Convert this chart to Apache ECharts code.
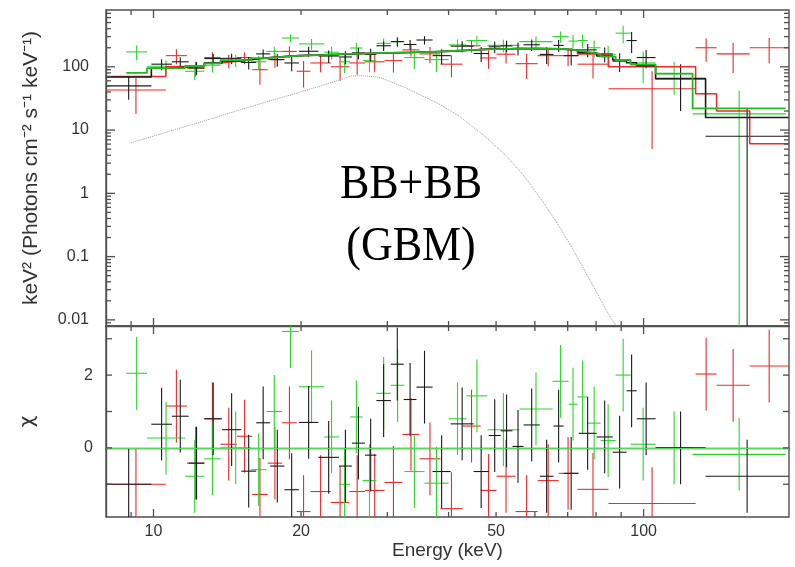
<!DOCTYPE html>
<html>
<head>
<meta charset="utf-8">
<script src="https://cdn.jsdelivr.net/npm/echarts@6/dist/echarts.min.js"></script>
<style>
  html, body { margin: 0; padding: 0; background: #fff; }
  #chart { width: 795px; height: 567px; }
</style>
</head>
<body>
<div id="chart"></div>
<script>
// detector 1 (black): bin edges in keV, unfolded flux, 1-sigma error, model and chi
const blackEdges = [8, 9.9, 10.9, 11.8, 12.7, 13.8, 15.1, 16.2, 17.3, 18.5, 19.8, 21.7, 23.9, 25.4, 27, 28.5, 30.5, 32.4, 34.4, 37.1, 40.4, 45, 48.3, 51.1, 54, 56.9, 61.4, 65.5, 68.7, 73.7, 80.2, 86.5, 92.3, 96.8, 105.8, 133.8, 197.7];
const blackFlux = [50, 110, 120, 96, 135, 136, 117, 160, 130, 115, 176, 148, 143, 166, 157, 215, 250, 225, 265, 150, 212, 162, 207, 214, 196, 223, 157, 218, 150, 185, 160, 123, 260, 140, 65, 8];
const blackErr = [20, 22, 22, 22, 25, 25, 26, 28, 30, 30, 32, 33, 33, 34, 35, 37, 38, 40, 40, 40, 42, 43, 44, 45, 45, 46, 46, 46, 45, 44, 42, 40, 95, 45, 45, 14];
const blackModel = [69, 95, 100, 105, 115, 124, 133, 140, 145, 150, 153, 157, 160, 162, 164, 166, 168, 170, 173, 177, 184, 190, 192, 193, 194, 194, 193, 190, 182, 167, 148, 128, 116, 104, 65, 15.8];
const blackChi = [-1.0, 0.65, 0.87, -0.42, 0.8, 0.5, -0.64, 0.69, -0.5, -1.15, 0.7, -0.26, -0.5, 0.13, -0.2, 1.3, 2.3, 1.33, 1.67, -0.65, 0.66, -0.65, 0.34, 0.47, 0.04, 0.63, -0.78, 0.6, -0.7, 0.4, 0.3, -0.12, 1.57, 0.8, 0.0, -0.78];

// detector 2 (red)
const redEdges = [8, 10.6, 11.7, 12.7, 13.7, 14.8, 15.9, 17.1, 18.3, 19.6, 20.9, 23, 25.1, 27, 29.6, 32.2, 34.9, 38.5, 42.7, 46.5, 50.1, 54.8, 60.8, 67.1, 73.3, 84.8, 127.7, 140.9, 164.6, 197.7];
const redFlux = [43, 150, 95, 140, 125, 140, 90, 130, 175, 85, 115, 100, 115, 120, 125, 185, 160, 110, 215, 138, 158, 112, 150, 150, 110, 45, 200, 160, 200];
const redErr = [25, 40, 25, 30, 30, 30, 38, 33, 36, 38, 33, 40, 40, 38, 44, 40, 45, 42, 47, 45, 45, 47, 48, 48, 44, 40, 80, 80, 86];
const redModel = [70, 100, 105, 115, 122, 130, 138, 144, 150, 152, 155, 159, 162, 164, 167, 170, 174, 180, 187, 191, 193, 194, 193, 184, 160, 100, 37.5, 20, 6.1];
const redChi = [-1.0, 1.15, -0.42, 0.8, 0.1, 0.32, -1.28, -0.42, 0.69, -1.75, -1.2, -1.5, -1.2, -1.17, -0.95, 0.37, -0.3, -1.67, 0.6, -1.17, -0.78, -1.75, -0.9, -0.7, -1.14, -1.53, 2.03, 1.72, 2.25];

// detector 3 (green)
const greenEdges = [8.8, 9.7, 11.6, 12.7, 13.7, 15.8, 17, 18.3, 19.8, 22.3, 23.9, 25.2, 26.7, 28.5, 30.5, 32.5, 35.7, 40, 43.5, 48, 55.8, 65.2, 70.3, 73.3, 76.9, 81.7, 87.7, 94.1, 105.8, 125.9, 194.9];
const greenFlux = [172, 102, 85, 106, 127, 120, 175, 285, 230, 170, 120, 198, 125, 235, 250, 140, 130, 222, 260, 218, 250, 300, 255, 260, 200, 157, 340, 115, 78, 18];
const greenErr = [45, 25, 23, 25, 28, 30, 32, 42, 45, 40, 40, 42, 43, 46, 48, 48, 47, 49, 50, 50, 52, 60, 62, 63, 60, 58, 105, 60, 42, 24];
const greenModel = [80, 95, 103, 113, 127, 137, 143, 150, 154, 158, 160, 162, 164, 166, 168, 171, 176, 183, 189, 193, 194, 190, 181, 172, 160, 145, 128, 108, 78, 22];
const greenChi = [2.05, 0.27, -0.78, -0.3, 0.0, -0.6, 1.0, 3.2, 1.68, 0.3, -1.0, 0.85, -0.9, 1.5, 1.72, -0.65, -0.97, 0.8, 1.43, 0.5, 1.07, 1.83, 1.2, 1.4, 0.68, 0.2, 2.0, 0.1, 0.0, -0.18];

// single blackbody component (grey dotted curve)
const bbEnergy = [9, 12.5, 16.5, 21, 24, 26, 28, 31, 35, 40, 45, 50, 55, 60, 65, 70, 75, 80, 85, 88];
const bbFlux = [6.3, 13.5, 26, 45, 62, 72, 70, 55, 36, 21, 11, 5.5, 2.6, 1.1, 0.45, 0.18, 0.07, 0.028, 0.012, 0.008];

const chiErr = 1;
const xTicks = [9, 10, 20, 30, 40, 50, 60, 70, 80, 90, 100];
const xMajorTicks = [10, 100];
const xLabels = [10, 20, 50, 100];
const yLabels = [0.01, 0.1, 1, 10, 100];
const chiTicks = [-1, 0, 1, 2, 3];
const chiLabels = [0, 2];

const xMin = 8, xMax = 198;
const yMin = 0.008, yMax = 790;
const chiMin = -1.9, chiMax = 3.35;

let yMinorTicks = [];
for (const d of [0.001, 0.01, 0.1, 1, 10, 100]) {
  for (let k = 2; k <= 9; k++) {
    const v = +(k * d).toPrecision(3);
    if (v > yMin && v < yMax) yMinorTicks.push(v);
  }
}

const grids = [
  { left: 106, top: 10, width: 683, height: 316 },
  { left: 106, top: 326, width: 683, height: 191 }
];

const axisColor = '#505050';
const labelColor = '#333';
const colBlack = '#1a1a1a', colRed = '#ee2a2a', colGreen = '#2cd62c';

function binRows(edges, vals, errs) {
  return vals.map((v, i) => [edges[i], edges[i + 1], Math.sqrt(edges[i] * edges[i + 1]), v,
    Array.isArray(errs) ? errs[i] : errs]);
}

function stepRows(edges, model) {
  return edges.map((e, i) => [e, model[Math.min(i, model.length - 1)]]);
}

function crossRender(floor) {
  return function (params, api) {
    const lo = api.value(0), hi = api.value(1), mid = api.value(2);
    const v = api.value(3), e = api.value(4);
    let bot = v - e;
    if (floor !== null && bot <= floor) bot = floor;
    const a = api.coord([lo, v]), b = api.coord([hi, v]);
    const c = api.coord([mid, v + e]), d = api.coord([mid, bot]);
    const style = { stroke: api.visual('color'), lineWidth: 1.1 };
    return {
      type: 'group', children: [
        { type: 'line', shape: { x1: a[0], y1: a[1], x2: b[0], y2: b[1] }, style: style },
        { type: 'line', shape: { x1: c[0], y1: c[1], x2: d[0], y2: d[1] }, style: style }
      ]
    };
  };
}

function crossSeries(rows, color, ai, floor, extra) {
  return Object.assign({
    type: 'custom', xAxisIndex: ai, yAxisIndex: ai, clip: true, silent: true,
    itemStyle: { color: color },
    renderItem: crossRender(floor),
    encode: { x: [0, 1, 2], y: 3 },
    data: rows
  }, extra || {});
}

function modelSeries(edges, model, color, width) {
  return {
    type: 'line', xAxisIndex: 0, yAxisIndex: 0, step: 'end', showSymbol: false, silent: true,
    lineStyle: { color: color, width: width },
    data: stepRows(edges, model)
  };
}

const baseAxis = {
  axisLine: { show: true, lineStyle: { color: axisColor, width: 1.4 } },
  axisTick: { show: false },
  splitLine: { show: false }
};

const chart = echarts.init(document.getElementById('chart'));
chart.setOption({
  animation: false,
  backgroundColor: '#fff',
  textStyle: { fontFamily: 'Liberation Sans, Arial, sans-serif' },
  grid: grids.map(g => Object.assign({ show: true, borderColor: axisColor, borderWidth: 1.4, backgroundColor: 'transparent' }, g)),
  xAxis: [
    Object.assign({}, baseAxis, {
      type: 'log', logBase: 10, gridIndex: 0, min: xMin, max: xMax, axisLabel: { show: false }
    }),
    Object.assign({}, baseAxis, {
      type: 'log', logBase: 10, gridIndex: 1, min: xMin, max: xMax,
      axisLabel: { show: true, customValues: xLabels, margin: 7, color: labelColor, fontSize: 16, formatter: '{value}' },
      name: 'Energy (keV)', nameLocation: 'middle', nameGap: 22,
      nameTextStyle: { color: labelColor, fontSize: 19 }
    })
  ],
  yAxis: [
    Object.assign({}, baseAxis, {
      type: 'log', logBase: 10, gridIndex: 0, min: yMin, max: yMax,
      axisLabel: { show: true, customValues: yLabels, margin: 17, color: labelColor, fontSize: 16, formatter: '{value}' },
      name: 'keV\u00b2 (Photons cm\u207b\u00b2 s\u207b\u00b9 keV\u207b\u00b9)', nameLocation: 'middle', nameGap: 64, nameRotate: 90,
      nameTextStyle: { color: labelColor, fontSize: 21 }
    }),
    Object.assign({}, baseAxis, {
      type: 'value', gridIndex: 1, min: chiMin, max: chiMax,
      axisLabel: { show: true, customValues: chiLabels, margin: 13, color: labelColor, fontSize: 16 },
      name: '\u03c7', nameLocation: 'middle', nameGap: 68, nameRotate: 90,
      nameTextStyle: { color: labelColor, fontSize: 20, fontFamily: 'DejaVu Sans' }
    })
  ],
  series: [
    {
      type: 'line', xAxisIndex: 0, yAxisIndex: 0, showSymbol: false, silent: true, smooth: true,
      lineStyle: { color: '#9a9a9a', width: 1, type: 'dotted' },
      data: bbEnergy.map((e, i) => [e, bbFlux[i]])
    },
    crossSeries(binRows(redEdges, redFlux, redErr), colRed, 0, yMin / 2),
    crossSeries(binRows(greenEdges, greenFlux, greenErr), colGreen, 0, yMin / 2),
    crossSeries(binRows(blackEdges, blackFlux, blackErr), colBlack, 0, yMin / 2),
    modelSeries(redEdges, redModel, colRed, 1.5),
    modelSeries(blackEdges, blackModel, colBlack, 1.6),
    modelSeries(greenEdges, greenModel, '#22b822', 1.8),
    crossSeries(binRows(redEdges, redChi, chiErr), colRed, 1, null),
    crossSeries(binRows(greenEdges, greenChi, chiErr), colGreen, 1, null, {
      markLine: {
        silent: true, symbol: ['none', 'none'], label: { show: false },
        lineStyle: { color: '#55d855', width: 1, type: 'solid' },
        data: [{ yAxis: 0 }]
      }
    }),
    crossSeries(binRows(blackEdges, blackChi, chiErr), colBlack, 1, null)
  ]
});

// inside ticks on all four sides, positioned through the axes' own scales
const tickEls = [];
function tickLine(x1, y1, x2, y2) {
  tickEls.push({ type: 'line', silent: true, z: 100,
    shape: { x1: x1, y1: y1, x2: x2, y2: y2 }, style: { stroke: axisColor, lineWidth: 1.3 } });
}
function addTicks(gi, yRef, yMajor, yMinor, yLen) {
  const g = grids[gi];
  const bottom = g.top + g.height, right = g.left + g.width;
  xTicks.forEach(v => {
    const px = chart.convertToPixel({ gridIndex: gi }, [v, yRef])[0];
    const len = xMajorTicks.includes(v) ? 8 : 5;
    tickLine(px, bottom, px, bottom - len);
    tickLine(px, g.top, px, g.top + len);
  });
  [[yMajor, yLen], [yMinor, 5]].forEach(([vals, len]) => {
    vals.forEach(v => {
      const py = chart.convertToPixel({ gridIndex: gi }, [xMin, v])[1];
      tickLine(g.left, py, g.left + len, py);
      tickLine(right, py, right - len, py);
    });
  });
}
addTicks(0, 1, yLabels, yMinorTicks, 9);
addTicks(1, 0, chiTicks, [], 6);

chart.setOption({
  graphic: [{
    type: 'text', x: 411, y: 216, scaleY: 1.12, silent: true, z: 100,
    style: {
      text: 'BB+BB\n(GBM)', fontSize: 44, fontFamily: 'Liberation Serif, serif',
      fill: '#000', align: 'center', verticalAlign: 'middle', lineHeight: 55
    }
  }].concat(tickEls)
});
</script>
</body>
</html>
